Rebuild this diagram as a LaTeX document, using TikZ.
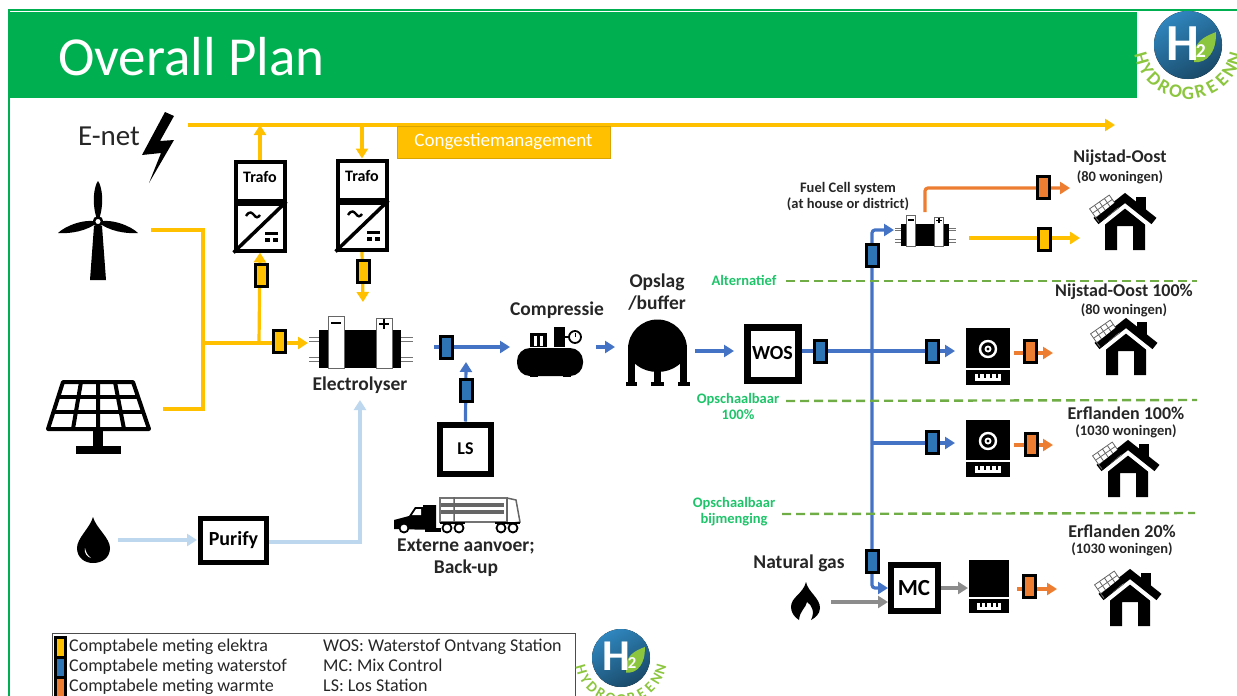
\documentclass[tikz,border=0pt]{standalone}
\usepackage{fontspec}
\setmainfont{Carlito}
\usetikzlibrary{arrows.meta,shapes}
\pgfdeclarelayer{background}
\pgfsetlayers{background,main}
\definecolor{elec}{HTML}{FFC000}
\definecolor{hydro}{HTML}{4472C4}
\definecolor{hydrofill}{HTML}{2E75B6}
\definecolor{heat}{HTML}{ED7D31}
\definecolor{water}{HTML}{BDD7EE}
\definecolor{header}{HTML}{00B050}
\definecolor{dashgreen}{HTML}{70AD47}
\definecolor{textgreen}{HTML}{1FC46A}
\definecolor{leaf}{HTML}{8CC63F}
\definecolor{logoblue}{HTML}{2F86BE}
\newcommand{\fs}[1]{\fontsize{#1}{#1}\selectfont}
\tikzstyle{meter}=[rectangle,draw=black,line width=3pt,minimum width=12pt,minimum height=22pt,inner sep=0pt]
\tikzstyle{meterE}=[meter,fill=elec]
\tikzstyle{meterH}=[meter,fill=hydrofill]
\tikzstyle{meterQ}=[meter,fill=heat]
\tikzstyle{frame}=[rectangle,draw=black,fill=white,inner sep=0pt,font=\bfseries]
\tikzstyle{lbl}=[inner sep=0pt,align=center,text=black!85,font=\bfseries\fs{18}]
\tikzstyle{biglbl}=[inner sep=0pt,align=center,text=black!85,font=\bfseries\fs{19.5}]
\tikzstyle{sublbl}=[inner sep=0pt,align=center,text=black!85,font=\bfseries\fs{14.5}]
\tikzstyle{grnlbl}=[inner sep=0pt,align=center,text=textgreen,font=\bfseries\fs{14.5}]
\tikzstyle{leglbl}=[inner sep=0pt,anchor=west,text height=12pt,text depth=4pt,text=black!85,font=\fs{18}]
\tikzstyle{pipe} = [line width=3.2pt,-{Triangle[length=10pt,width=12pt]}]
\tikzstyle{pipeE} = [pipe,draw=elec]
\tikzstyle{pipeH} = [pipe,draw=hydro]
\tikzstyle{pipeQ} = [pipe,draw=heat]
\tikzstyle{pipeW} = [pipe,draw=water]
\tikzstyle{pipeG} = [pipe,draw=black!45]
\tikzstyle{border} = [draw=dashgreen,line width=2.4pt,dashed,dash pattern=on 9pt off 5pt]
\tikzset{
  house/.pic={
    \fill[black] (-20,20) -- (0,6) -- (20,20) -- (20,55) -- (8,55) -- (8,31) -- (-8,31) -- (-8,55) -- (-20,55) -- cycle;
    \fill[black] (11,2) rectangle (21,20);
    \draw[white,line width=10pt] (-30,31) -- (0,7) -- (30,31);
    \draw[black,line width=8pt] (-29,26) -- (0,3) -- (29,26);
    \begin{scope}[shift={(-21,13.5)},rotate=35]
      \draw[black!60,fill=white,line width=.8pt] (-12,-8) rectangle (12,8);
      \foreach \gx in {-6,0,6} \draw[black!60,line width=.8pt] (\gx,-8) -- (\gx,8);
      \foreach \gy in {-2.7,2.7} \draw[black!60,line width=.8pt] (-12,\gy) -- (12,\gy);
    \end{scope}
    \draw[black,line width=6pt] (-27,25) -- (0,3);
  },
  boiler/.pic={
    \fill[black] (-22,0) rectangle (22,40);
    \fill[black] (-22,42) rectangle (22,57);
    \fill[white] (-13,46) rectangle (13,53);
    \foreach \bx in {-9,-3,3,9} \fill[black] (\bx-1,46) rectangle (\bx+1,50);
    \draw[white,line width=2.4pt] (0,21) circle (8);
    \fill[white] (0,21) circle (3.5);
    \fill[black] (0,21) circle (1.6);
  },
  boilerplain/.pic={
    \fill[black] (-20,0) rectangle (20,37);
    \fill[black] (-20,39) rectangle (20,53);
    \fill[white] (-12,43) rectangle (12,50);
    \foreach \bx in {-8,-3,3,8} \fill[black] (\bx-1,43) rectangle (\bx+1,47);
  },
  cell/.pic={
    \foreach \sy in {-12,-8,8,12} {
      \draw[black!55,line width=.9pt] (-51,\sy) -- (-41,\sy);
      \draw[black!55,line width=.9pt] (41,\sy) -- (53,\sy);
    }
    \fill[black] (-41,-19) rectangle (41,19);
    \draw[black!60,fill=white,line width=.9pt] (-32,-33) rectangle (-16,19);
    \draw[black!60,fill=white,line width=.9pt] (16,-31) rectangle (32,19);
    \draw[black,line width=1.8pt] (-29,-26) -- (-19,-26);
    \draw[black,line width=1.8pt] (19,-25) -- (29,-25) (24,-30) -- (24,-20);
  },
}
% logo with curved letters round the disc
\newcommand{\hlogo}[6]{
  \fill[left color=logoblue,right color=logoblue!55!black,shading angle=30] (#2,#3) circle (#4);
  \fill[leaf] (#2+.18*#4,#3+.5*#4) .. controls (#2+.1*#4,#3-.1*#4) and (#2+.5*#4,#3-.25*#4) .. (#2+.82*#4,#3-.38*#4) .. controls (#2+.85*#4,#3+.2*#4) and (#2+.55*#4,#3+.55*#4) .. cycle;
  \node[inner sep=0pt,text=white,font=\bfseries\fs{#5}] (#1H) at (#2-.16*#4,#3-.05*#4) {H};
  \pgfmathsetmacro\twosize{.38*#5}
  \node[inner sep=0pt,text=white,font=\bfseries\fs{\twosize}] (#1two) at (#2+.38*#4,#3+.18*#4) {2};
  \foreach \ltr [count=\i] in {H,Y,D,R,O,G,R,E,E,N,N} {
    \pgfmathsetmacro\ang{-74+(\i-1)*14.8}
    \node[inner sep=0pt,text=leaf,font=\bfseries\fs{#6},rotate=\ang] (#1l\i) at ({#2+1.42*#4*sin(\ang)},{#3+1.42*#4*cos(\ang)}) {\ltr};
  }
}
\begin{document}
\begin{tikzpicture}[x=1pt,y=-1pt]
    \useasboundingbox (0,0) rectangle (1237,696);
    % Header band and page edge
    \fill[header] (8,9) rectangle (1237,11);
    \fill[header] (8,9) rectangle (9.5,696);
    \node[rectangle,fill=header,minimum width=1128pt,minimum height=86pt,inner sep=0pt,anchor=north west] (band) at (9,12) {};
    \node[inner sep=0pt,anchor=west,text=white,font=\fs{55}] (title) at (58,57) {Overall Plan};
    \hlogo{top}{1188}{45}{34}{52}{19}
    % First we draw the boxes
    \node[rectangle,draw=elec!85!black,fill=elec,line width=1pt,minimum width=213pt,minimum height=32pt,inner sep=0pt,text=white,font=\fs{19}] (congestie) at (503.5,142) {Congestiemanagement};
    \foreach \pos/\name in {{(260,181)/trafoA}, {(362,180)/trafoB}}
        \node[frame,line width=4pt,minimum width=49pt,minimum height=39pt,text height=11pt,text depth=8pt,font=\bfseries\fs{16}] (\name) at \pos {Trafo};
    \foreach \pos/\name in {{(260,227)/convA}, {(362,226)/convB}}
        \node[frame,line width=4pt,minimum width=49pt,minimum height=47pt] (\name) at \pos {};
    \foreach \name/\cx/\cy in {convA/260/227, convB/362/226} {
        \draw[black,line width=3.5pt] (\name.south west) -- (\name.north east);
        \draw[black,line width=2.4pt] (\cx-14,\cy-11) .. controls (\cx-10,\cy-17) and (\cx-8,\cy-14) .. (\cx-6,\cy-12) .. controls (\cx-4,\cy-9) and (\cx-2,\cy-9) .. (\cx,\cy-12);
        \fill[black] (\cx+5,\cy+5) rectangle (\cx+18,\cy+8);
        \fill[black] (\cx+5,\cy+11) rectangle (\cx+10,\cy+15);
        \fill[black] (\cx+13,\cy+11) rectangle (\cx+18,\cy+15);
    }
    \node[frame,line width=7pt,minimum width=51pt,minimum height=53pt,font=\bfseries\fs{20}] (wos) at (772.5,353.5) {WOS};
    \node[frame,line width=6pt,minimum width=51pt,minimum height=49pt,font=\bfseries\fs{18}] (ls) at (465.5,449) {LS};
    \node[frame,line width=5.5pt,minimum width=66pt,minimum height=44pt,font=\bfseries\fs{20}] (purify) at (233.5,540.5) {Purify};
    \node[frame,line width=6pt,minimum width=47pt,minimum height=46pt,font=\bfseries\fs{23}] (mc) at (914,588) {MC};
    % Stack and boiler icons
    \pic at (360,349) {cell};
    \pic[scale=.58] at (925,235) {cell};
    \pic at (988,328) {boiler};
    \pic at (988,420) {boiler};
    \pic at (989,560) {boilerplain};
    % House icons
    \foreach \hx/\hy in {1125/195, 1126/320, 1128/442, 1130/571}
        \pic at (\hx,\hy) {house};
    % E-net bolt
    \node[inner sep=0pt,text=black!85,font=\fs{29}] (enet) at (109,136) {E-net};
    \fill[black] (165,112) -- (174,116) -- (160,141) -- (174,140) -- (149,183) -- (161,153) -- (142,155) -- cycle;
    % Wind turbine
    \fill[black] (94,226) -- (102,226) -- (106,280) -- (90,280) -- cycle;
    \fill[black] (98,222) .. controls (91,205) and (94,186) .. (98,181) .. controls (102,186) and (105,205) .. (98,222) -- cycle;
    \fill[black] (98,222) .. controls (85,218) and (65,226) .. (58,233) .. controls (70,234) and (88,231) .. (98,222) -- cycle;
    \fill[black] (98,222) .. controls (111,218) and (131,226) .. (138,233) .. controls (126,234) and (108,231) .. (98,222) -- cycle;
    \draw[black,fill=white,line width=2.5pt] (98,221.5) circle (4);
    % Solar panel
    \draw[black,line width=4pt,fill=white,line join=round] (63,382) -- (133,382) -- (149,429) -- (48,429) -- cycle;
    \draw[black,line width=4pt] (81,382) -- (73,429) (98,382) -- (98,429) (115,382) -- (124,429);
    \draw[black,line width=4pt] (58,397) -- (138,397) (53,412) -- (144,412);
    \fill[black] (93,429) rectangle (103,447);
    \fill[black] (76,446) rectangle (121,454);
    % Water drop and flame
    \fill[black] (93,517) .. controls (90,528) and (77,538) .. (77,548) .. controls (77,558) and (85,563) .. (93,563) .. controls (102,563) and (110,558) .. (110,548) .. controls (110,538) and (96,528) .. (93,517) -- cycle;
    \fill[white] (85,548) .. controls (84,553) and (87,557) .. (91,558) .. controls (87,555) and (86,552) .. (85,548) -- cycle;
    \fill[black] (806,582) .. controls (808,592) and (820,598) .. (820,608) .. controls (820,614) and (815,618) .. (811,620) .. controls (815,612) and (812,605) .. (807,602) .. controls (806,608) and (800,610) .. (799,620) .. controls (794,617) and (791,612) .. (791,607) .. controls (791,597) and (803,594) .. (806,582) -- cycle;
    % Compressor
    \fill[black] (530,333) rectangle (547,347);
    \fill[white] (534,336) rectangle (537,346);
    \fill[white] (540,336) rectangle (543,346);
    \fill[black] (554,327) rectangle (565,347);
    \draw[black,line width=1.5pt] (565,337) -- (569,337);
    \draw[black,fill=white,line width=1.8pt] (575,337) circle (6);
    \draw[black,line width=1pt] (575,337) -- (575,333);
    \fill[black,rounded corners=13pt] (517,348) rectangle (583,376);
    \fill[black] (530,372) rectangle (538,377);
    \fill[black] (563,372) rectangle (571,377);
    % Storage vessel
    \fill[black] (628,349) arc[start angle=180,end angle=360,radius=29.5] .. controls (687,362) and (673,372) .. (657.5,372) .. controls (642,372) and (628,362) .. (628,349) -- cycle;
    \fill[black] (628,345) rectangle (635,383);
    \fill[black] (680,345) rectangle (687,383);
    \fill[black] (654,370) rectangle (661,383);
    \fill[black] (626,382) rectangle (637,386);
    \fill[black] (651,382) rectangle (664,386);
    \fill[black] (678,382) rectangle (690,386);
    % Truck
    \fill[black] (394,529) -- (394,520) -- (409,516) -- (415,507) -- (423,507) -- (423,505) -- (436,505) -- (436,530) -- cycle;
    \fill[white] (412,515) -- (416,509) -- (421,509) -- (421,515) -- cycle;
    \fill[black] (425,528) rectangle (441,532);
    \draw[black!55,line width=1.2pt] (440,498) rectangle (507,522);
    \fill[black!60] (441,503) rectangle (504,507);
    \fill[black!60] (441,510) rectangle (504,514);
    \draw[black!60,line width=1.5pt] (454,497) -- (454,524) (507,498) -- (507,524) (507,498) -- (516,500) -- (520,522) -- (507,524);
    \draw[black,line width=1.5pt] (440,523) -- (465,523) (495,523) -- (520,523);
    \foreach \wx in {404,447,459,501,513}
        \draw[black,fill=white,line width=1.8pt] (\wx,528) circle (4.5);
    % Text labels
    \foreach \pos/\name/\txt in {{(360,385)/lblelectro/Electrolyser}, {(557,310)/lblcomp/Compressie}, {(657,292)/lblbuffer/{Opslag\\[2.5pt]/buffer}}, {(466,558)/lbltruck/Externe aanvoer;\\[2.5pt]Back-up}, {(799,563)/lblgas/Natural gas}}
        \node[biglbl] (\name) at \pos {\txt};
    \foreach \pos/\name/\txt in {{(1120,158)/lblNO/Nijstad-Oost}, {(1124,292)/lblNOf/Nijstad-Oost 100\%}, {(1126,413)/lblEf/Erflanden 100\%}, {(1122,531)/lblEt/Erflanden 20\%}}
        \node[lbl] (\name) at \pos {\txt};
    \foreach \pos/\name/\txt in {{(1120,177)/subNO/(80 woningen)}, {(1124,310)/subNOf/(80 woningen)}, {(1126,431)/subEf/(1030 woningen)}, {(1122,549)/subEt/(1030 woningen)}, {(848,197)/lblcell/Fuel Cell system\\[1.5pt](at house or district)}}
        \node[sublbl] (\name) at \pos {\txt};
    \foreach \pos/\name/\txt in {{(744,280)/grnA/Alternatief}, {(738,406)/grnB/Opschaalbaar\\[1.5pt]100\%}, {(734,512)/grnC/Opschaalbaar\\[1.5pt]bijmenging}}
        \node[grnlbl] (\name) at \pos {\txt};
    % Meters
    \foreach \pos/\name in {{(261,275)/mEa}, {(363,271)/mEb}, {(279,341)/mEc}, {(1044,239)/mEd}}
        \node[meterE] (\name) at \pos {};
    \foreach \pos/\name in {{(446,347)/mHa}, {(466,390)/mHb}, {(820,351)/mHc}, {(932,351)/mHd}, {(932,442)/mHe}, {(872,255)/mHf}, {(872,561)/mHg}}
        \node[meterH] (\name) at \pos {};
    \foreach \pos/\name in {{(1043,187)/mQa}, {(1030,351)/mQb}, {(1031,444)/mQc}, {(1029,586)/mQd}}
        \node[meterQ] (\name) at \pos {};
    % Free ends of the pipes
    \foreach \pos/\name in {{(188,125)/busA}, {(1115,125)/busB}, {(260,125)/busC}, {(362,125)/busD}, {(151,230)/windEnd}, {(203,230)/windKnee}, {(163,409)/solarEnd}, {(203,409)/solarKnee}, {(203,343)/jointA}, {(259,343)/jointB}, {(308,343)/elecIn}, {(363,302)/elecTop}, {(434,347)/gasOut}, {(510,347)/compIn}, {(596,347)/compOut}, {(615,347)/bufIn}, {(695,351)/bufOut}, {(734,351)/wosIn}, {(801,351)/wosOut}, {(872,443)/crossB}, {(955,351)/boilAIn}, {(955,443)/boilBIn}, {(894,230)/cellIn}, {(925,212)/heatStart}, {(1070,188)/heatEnd}, {(969,238)/powStart}, {(1080,238)/powEnd}, {(1014,353)/qAs}, {(1053,353)/qAe}, {(1014,445)/qBs}, {(1053,445)/qBe}, {(1017,589)/qCs}, {(1057,589)/qCe}, {(888,588)/mixIn}, {(968,588)/mixOut}, {(831,602)/gasStart}, {(888,602)/gasEnd}, {(118,540)/dropEnd}, {(197,540)/purIn}, {(360,542)/purKnee}, {(360,400)/elecBot}, {(466,362)/lsTip}, {(786,281)/altA}, {(1197,281)/altB}, {(786,401)/opsA}, {(1197,400)/opsB}, {(782,514)/bijA}, {(1195,513)/bijB}}
        \node[coordinate] (\name) at \pos {};
    % Connect the parts with pipes, under the meters
    \begin{pgfonlayer}{background}
        \path[pipeE] (busA) -- (busB);
        \path[pipeE] (convA.north) -- (busC);
        \path[pipeE] (busD) -- (trafoB.north);
        \path[pipeE,-] (windEnd) -- (windKnee) -- (solarKnee) -- (solarEnd);
        \path[pipeE] (jointA) -- (elecIn);
        \path[pipeE] (jointB) -- (convA.south);
        \path[pipeE] (convB.south) -- (elecTop);
        \path[pipeH] (gasOut) -- (compIn);
        \path[pipeH] (ls.north) -- (lsTip);
        \path[pipeH] (compOut) -- (bufIn);
        \path[pipeH] (bufOut) -- (wosIn);
        \path[pipeH] (wosOut) -- (boilAIn);
        \path[pipeH,rounded corners=3pt] (crossB) |- (cellIn);
        \path[pipeH] (crossB) -- (boilBIn);
        \path[pipeH,rounded corners=3pt] (crossB) |- (mixIn);
        \path[pipeQ,rounded corners=3pt] (heatStart) |- (heatEnd);
        \path[pipeE] (powStart) -- (powEnd);
        \path[pipeQ] (qAs) -- (qAe);
        \path[pipeQ] (qBs) -- (qBe);
        \path[pipeQ] (qCs) -- (qCe);
        \path[pipeG] (mc.east) -- (mixOut);
        \path[pipeG] (gasStart) -- (gasEnd);
        \path[pipeW] (dropEnd) -- (purIn);
        \path[pipeW] (purify.east |- purKnee) -- (purKnee) -- (elecBot);
        \path[border] (altA) -- (altB);
        \path[border] (opsA) -- (opsB);
        \path[border] (bijA) -- (bijB);
    \end{pgfonlayer}
    % Legend
    \node[rectangle,draw=black!70,line width=1pt,minimum width=523pt,minimum height=80pt,inner sep=0pt,anchor=north west] (legend) at (52,633) {};
    \foreach \pos/\name/\sty in {{(60,647)/lgE/meterE}, {(60,667)/lgH/meterH}, {(60,687)/lgQ/meterQ}}
        \node[\sty,minimum height=20pt,minimum width=10pt] (\name) at \pos {};
    \foreach \pos/\name/\txt in {{(69,647)/ltE/Comptabele meting elektra}, {(69,667)/ltH/Comptabele meting waterstof}, {(69,687)/ltQ/Comptabele meting warmte}, {(323,647)/ltW/WOS: Waterstof Ontvang Station}, {(323,667)/ltM/MC: Mix Control}, {(323,687)/ltL/LS: Los Station}}
        \node[leglbl] (\name) at \pos {\txt};
    \hlogo{low}{621}{658}{29}{44}{15}
\end{tikzpicture}
\end{document}
